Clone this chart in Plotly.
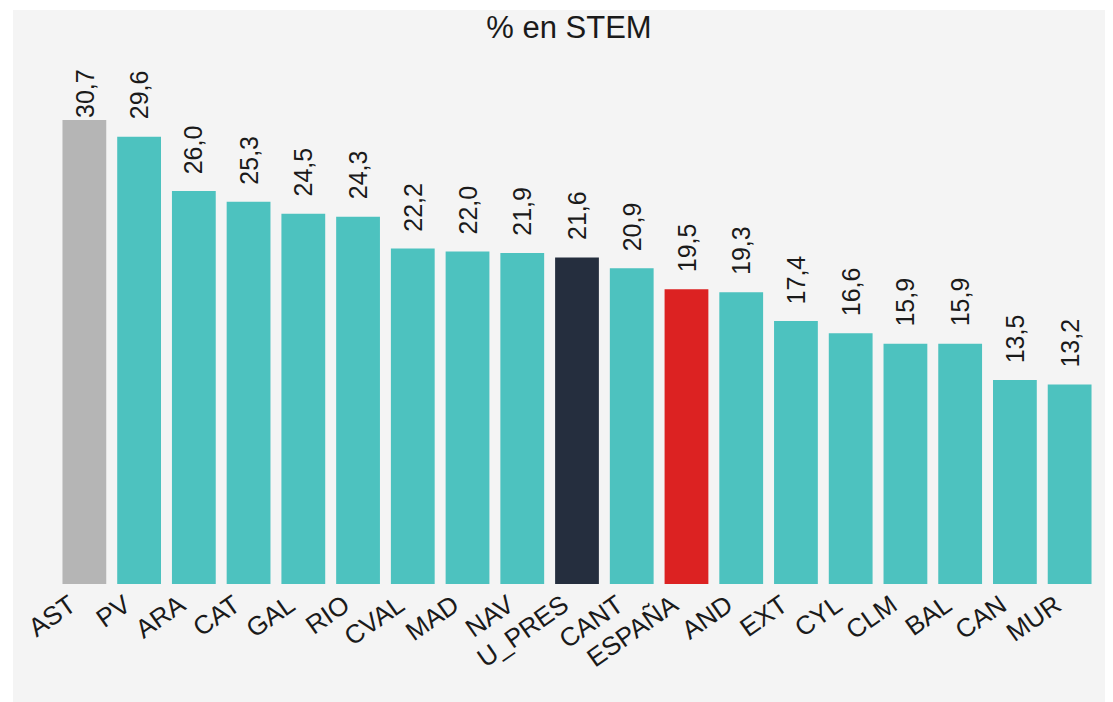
import plotly.graph_objects as go

categories = ["AST", "PV", "ARA", "CAT", "GAL", "RIO", "CVAL", "MAD", "NAV", "U_PRES",
              "CANT", "ESPAÑA", "AND", "EXT", "CYL", "CLM", "BAL", "CAN", "MUR"]
values = [30.7, 29.6, 26.0, 25.3, 24.5, 24.3, 22.2, 22.0, 21.9, 21.6,
          20.9, 19.5, 19.3, 17.4, 16.6, 15.9, 15.9, 13.5, 13.2]

TEAL = "#4dc2bf"
special = {"AST": "#b5b5b5", "U_PRES": "#252e3e", "ESPAÑA": "#dc2222"}
colors = [special.get(c, TEAL) for c in categories]
labels = [f"{v:.1f}".replace(".", ",") for v in values]

W, H = 1105, 694
ml, mr, mt, mb = 49, 16, 40, 118
pw = W - ml - mr
ph = H - mt - mb
FONT = "Liberation Sans, Arial, sans-serif"
LABEL_GAP = 1.0      # gap between bar top and label, in data units
LABEL_CAP = max(values)  # labels cannot rise above this level (plot top limit)

fig = go.Figure(go.Bar(
    x=categories, y=values, marker=dict(color=colors, line=dict(width=0)),
    hoverinfo="skip",
))

annotations = [
    dict(x=c, y=min(v + LABEL_GAP, LABEL_CAP), xref="x", yref="y", text=t,
         showarrow=False, textangle=-90, xanchor="center", yanchor="bottom",
         font=dict(size=25, color="#1a1a1a", family=FONT))
    for c, v, t in zip(categories, values, labels)
]

fig.update_layout(
    width=W, height=H,
    margin=dict(l=ml, r=mr, t=mt, b=mb, pad=0),
    paper_bgcolor="white", plot_bgcolor="rgba(0,0,0,0)",
    bargap=0.2,
    font=dict(family=FONT, color="#1a1a1a"),
    title=dict(text="% en STEM", x=(569 - 8) / W, xref="container", xanchor="center",
               y=1 - 19 / H, yref="container", yanchor="middle",
               font=dict(size=31, color="#1a1a1a")),
    xaxis=dict(tickangle=-35, tickfont=dict(size=26, color="#1a1a1a"), showgrid=False,
               showline=False, zeroline=False, ticks="", ticklabelshift=-14),
    yaxis=dict(range=[0, 35.47], visible=False, showgrid=False, zeroline=False),
    annotations=annotations,
    shapes=[dict(type="rect", xref="paper", yref="paper",
                 x0=(5 - ml) / pw, x1=2, y0=-1, y1=(ph + mt - 2) / ph,
                 fillcolor="#f4f4f4", line=dict(width=0), layer="below")],
    showlegend=False,
)

fig.write_html("out.html", post_script="document.body.style.overflow='hidden';")
